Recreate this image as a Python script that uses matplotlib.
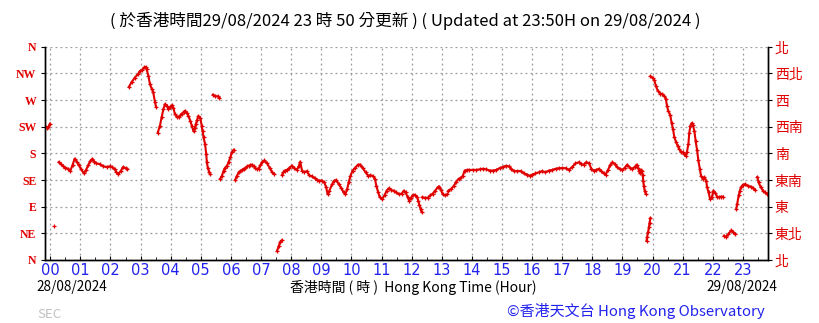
import numpy as np
import matplotlib
matplotlib.use("Agg")
import matplotlib.pyplot as plt
from matplotlib.ticker import MultipleLocator

nan = np.nan

# 10-minute-ish samples; nan marks a break in the trace
hours = [
    -0.17, -0.12, -0.06, -0.01, nan,
    0.11, nan,
    0.28, 0.35, 0.42, 0.50, 0.59, 0.67, 0.74, 0.81, 0.88, 0.95, 1.03, 1.12, 1.19, 1.26,
    1.33, 1.40, 1.47, 1.53, 1.64, 1.76, 1.87, 1.98, 2.06, 2.14, 2.20, 2.26, 2.34, 2.42,
    2.50, 2.56, nan,
    2.61, 2.70, 2.81, 2.92, 2.98, 3.06, 3.12, 3.17, 3.20, 3.26, 3.31, 3.37, 3.42, 3.48,
    3.51, nan,
    3.57, 3.64, 3.70, 3.76, 3.81, 3.87, 3.92, 3.98, 4.03, 4.09, 4.14, 4.20, 4.26, 4.32,
    4.37, 4.43, 4.48, 4.54, 4.59, 4.65, 4.70, 4.76, 4.80, 4.84, 4.88, 4.92, 4.98, 5.03,
    5.06, 5.09, 5.14, 5.18, 5.20, 5.23, 5.28, 5.31, nan,
    5.40, 5.48, 5.56, 5.62, nan,
    5.64, 5.70, 5.76, 5.81, 5.87, 5.92, 5.98, 6.03, 6.09, nan,
    6.14, 6.20, 6.26, 6.31, 6.37, 6.42, 6.48, 6.54, 6.59, 6.65, 6.70, 6.76, 6.81, 6.87,
    6.92, 6.98, 7.03, 7.11, 7.20, 7.29, 7.37, 7.44, nan,
    7.53, 7.59, 7.64, 7.68, nan,
    7.70, 7.74, 7.78, 7.86, 7.93, 8.02, 8.11, 8.19, 8.25, 8.30, 8.36, 8.44, 8.52, 8.60,
    8.69, 8.78, 8.86, 8.93, 9.02, 9.10, 9.16, 9.21, 9.27, 9.36, 9.43, 9.50, 9.58, 9.67,
    9.74, 9.80, 9.86, 9.91, 9.97, 10.04, 10.13, 10.22, 10.30, 10.38, 10.47, 10.56, 10.63,
    10.71, 10.78, 10.83, 10.89, 10.94, 11.02, 11.10, 11.17, 11.24, 11.32, 11.41, 11.49,
    11.58, 11.67, 11.74, 11.80, 11.87, 11.92, 11.98, 12.03, 12.11, 12.18, 12.22, 12.26,
    12.30, 12.33, nan,
    12.36, 12.44, 12.53, 12.62, 12.70, 12.78, 12.87, 12.92, 12.98, 13.03, 13.11, 13.18, nan,
    13.22, 13.31, 13.40, 13.48, 13.56, 13.62, 13.70, 13.76, 13.84, 13.92, 14.03, 14.14,
    14.26, 14.37, 14.48, 14.59, 14.70, 14.81, 14.92, 15.03, 15.14, 15.22, 15.31, 15.40,
    15.51, 15.62, 15.73, 15.84, 15.92, 16.00, 16.11, 16.22, 16.33, 16.44, 16.56, 16.67,
    16.78, 16.89, 17.00, 17.11, 17.22, 17.33, 17.44, 17.56, 17.63, 17.71, 17.80, 17.89,
    17.97, 18.04, 18.13, 18.22, 18.30, 18.38, 18.44, 18.52, 18.60, 18.67, 18.74, 18.82,
    18.91, 19.00, 19.08, 19.16, 19.24, 19.33, 19.41, 19.47, 19.52, 19.56, 19.58, 19.61,
    19.64, 19.67, 19.69, 19.71, 19.74, 19.77, nan,
    19.80, 19.82, 19.85, 19.88, 19.90, 19.93, nan,
    19.93, 20.00, 20.06, 20.11, 20.17, 20.26, 20.33, 20.39, 20.44, 20.48, 20.52, 20.59,
    20.63, 20.68, 20.72, 20.78, 20.83, 20.89, 20.94, 21.00, 21.06, 21.11, 21.14, 21.19,
    21.22, 21.26, 21.30, 21.34, 21.39, 21.43, 21.48, 21.52, 21.57, 21.61, 21.67, 21.72,
    21.78, 21.81, 21.86, 21.91, 21.97, 22.02, 22.09, 22.14, 22.20, 22.28, 22.34, nan,
    22.37, 22.44, 22.52, 22.61, 22.68, 22.74, nan,
    22.78, 22.81, 22.86, 22.90, 22.94, 23.00, 23.08, 23.17, 23.26, 23.33, 23.41, nan,
    23.48, 23.52, 23.59, 23.67, 23.74, 23.81,
]

direction = [
    227, 223, 224, 230, nan,
    57, nan,
    165, 162, 159, 156, 154, 151, 160, 171, 166, 160, 153, 146, 152, 160,
    167, 171, 166, 163, 162, 158, 157, 158, 157, 153, 148, 145, 150, 157,
    155, 153, nan,
    292, 300, 308, 314, 319, 321, 325, 326, 322, 311, 297, 289, 283, 266,
    259, nan,
    215, 226, 241, 255, 263, 260, 255, 258, 261, 257, 246, 242, 241, 244,
    247, 250, 252, 248, 243, 235, 227, 217, 222, 230, 237, 243, 240, 227,
    217, 207, 196, 179, 165, 156, 148, 145, nan,
    279, 277, 276, 274, nan,
    137, 142, 151, 156, 159, 165, 173, 182, 186, nan,
    135, 142, 148, 150, 152, 154, 155, 158, 159, 160, 161, 158, 155, 153,
    154, 160, 165, 168, 163, 155, 148, 145, nan,
    15, 24, 31, 33, nan,
    144, 148, 151, 152, 155, 159, 155, 152, 158, 166, 151, 148, 150, 143,
    141, 138, 135, 134, 134, 131, 123, 111, 117, 128, 134, 135, 128, 121,
    114, 111, 120, 131, 142, 151, 156, 161, 161, 155, 148, 142, 143,
    142, 137, 125, 114, 106, 103, 109, 117, 121, 118, 117, 114,
    111, 112, 117, 114, 106, 100, 105, 109, 110, 106, 100, 92,
    86, 81, nan,
    106, 105, 105, 109, 112, 117, 123, 124, 118, 111, 109, 111, nan,
    117, 120, 125, 132, 137, 138, 142, 151, 152, 152, 152, 152,
    153, 154, 153, 151, 151, 152, 155, 157, 159, 158, 154, 150,
    150, 150, 146, 144, 142, 144, 146, 148, 150, 148, 151, 152,
    154, 155, 155, 155, 152, 157, 163, 165, 162, 161, 165, 163,
    154, 151, 152, 154, 150, 146, 144, 152, 161, 165, 162, 157,
    154, 152, 156, 161, 156, 154, 157, 161, 156, 150, 146, 152,
    150, 144, 134, 125, 117, 112, nan,
    32, 39, 47, 55, 63, 71, nan,
    310, 308, 303, 294, 286, 281, 280, 277, 272, 260, 252, 244,
    232, 221, 208, 199, 193, 187, 183, 182, 179, 176, 182, 196,
    215, 227, 231, 228, 217, 201, 185, 168, 154, 142, 137, 140,
    134, 123, 114, 103, 106, 117, 113, 107, 106, 107, 107, nan,
    41, 39, 44, 50, 47, 44, nan,
    86, 95, 109, 117, 123, 127, 128, 125, 124, 122, 118, nan,
    140, 131, 123, 117, 114, 111,
]

hour_labels = [f"{h:02d}" for h in range(24)]
dir_ticks = [0, 45, 90, 135, 180, 225, 270, 315, 360]
dir_labels_en = ["N", "NE", "E", "SE", "S", "SW", "W", "NW", "N"]
dir_labels_zh = ["北", "東北", "東", "東南", "南", "西南", "西", "西北", "北"]

title = "( 於香港時間29/08/2024 23 時 50 分更新 ) ( Updated at 23:50H on 29/08/2024 )"
xlabel = "香港時間 ( 時 )  Hong Kong Time (Hour)"
date_left = "28/08/2024"
date_right = "29/08/2024"
credit = "©香港天文台 Hong Kong Observatory"

RED = "#e00000"
BLUE = "#2222ee"
CJK = ["Noto Sans CJK TC", "DejaVu Sans"]

W, H = 819, 323
fig = plt.figure(figsize=(W / 100, H / 100), dpi=100)
x0, x1, y0, y1 = 44.7, 768, 46.7, 260
ax = fig.add_axes([x0 / W, 1 - y1 / H, (x1 - x0) / W, (y1 - y0) / H])

ax.plot(hours, direction, color=RED, lw=1.5, marker="+", ms=3.3, mew=0.9, zorder=3)

ax.set_xlim(-11 / 60, 23 + 50 / 60)
ax.set_ylim(0, 360)

ax.set_xticks(range(24))
ax.set_xticklabels(hour_labels, color=BLUE, fontsize=10.5, family=["Liberation Sans Narrow", "DejaVu Sans"])
ax.xaxis.set_minor_locator(MultipleLocator(0.5))
ax.tick_params(axis="x", which="major", direction="in", length=3, pad=2)
ax.tick_params(axis="x", which="minor", direction="in", length=2)

ax.set_yticks(dir_ticks)
ax.set_yticklabels(dir_labels_en, color=RED, fontsize=8.5, family="Liberation Serif", fontweight="bold")
ax.tick_params(axis="y", direction="out", length=3, pad=3)

ax2 = ax.twinx()
ax2.set_ylim(0, 360)
ax2.set_yticks(dir_ticks)
ax2.set_yticklabels(dir_labels_zh, color=RED, fontsize=10, family=CJK)
ax2.tick_params(axis="y", direction="out", length=3, pad=2)

ax.grid(True, color="#9a9a9a", linestyle=(0, (1.5, 2.5)), linewidth=0.9)
ax.spines["top"].set_visible(False)
ax2.spines["top"].set_visible(False)
for s in ["left", "right", "bottom"]:
    ax.spines[s].set_linewidth(1.0)
    ax2.spines[s].set_linewidth(1.0)

fig.text(405 / W, 1 - 21 / H, title, ha="center", va="center", fontsize=12, family=CJK)
fig.text(36 / W, 1 - 287 / H, date_left, ha="left", va="center", fontsize=9.8, family=CJK)
fig.text(777 / W, 1 - 287 / H, date_right, ha="right", va="center", fontsize=9.8, family=CJK)
fig.text(413 / W, 1 - 287 / H, xlabel, ha="center", va="center", fontsize=10, family=CJK)
fig.text(765 / W, 1 - 311 / H, credit, ha="right", va="center", fontsize=10.8, color=BLUE, family=CJK)
fig.text(37 / W, 1 - 314 / H, "SEC", ha="left", va="center", fontsize=9.5, color="#c0c0c0", family=CJK)

fig.savefig("out.png", dpi=100)
